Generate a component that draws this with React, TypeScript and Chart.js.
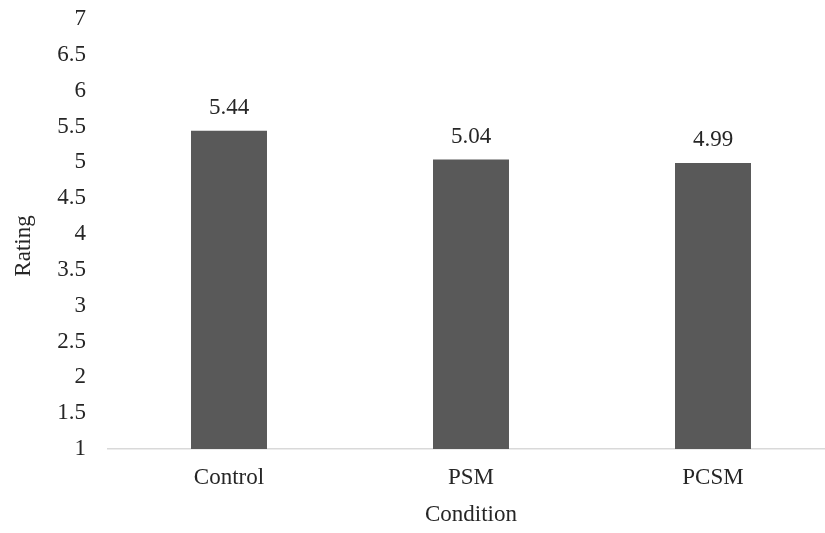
import React, { useEffect, useRef } from "react";
import { Chart, registerables } from "chart.js";

Chart.register(...registerables);

// Mean rating per experimental condition
const conditions = ["Control", "PSM", "PCSM"];
const ratings = [5.44, 5.04, 4.99];

// Rating axis range
const yMin = 1;
const yMax = 7;
const yStep = 0.5;
const yTitle = "Rating";

const FONT = '"Liberation Serif", "Times New Roman", serif';
const TEXT = "#262626";

// Writes each bar's value just above it
const valueLabels = {
  id: "valueLabels",
  afterDatasetsDraw(chart: any) {
    const ctx = chart.ctx;
    const meta = chart.getDatasetMeta(0);
    ctx.save();
    ctx.font = `23px ${FONT}`;
    ctx.fillStyle = TEXT;
    ctx.textAlign = "center";
    ctx.textBaseline = "middle";
    meta.data.forEach((bar: any, i: number) => {
      const v = chart.data.datasets[0].data[i] as number;
      ctx.fillText(v.toFixed(2), bar.x, bar.y - 23);
    });
    ctx.restore();
  },
};

// Vertical axis title, centred between the plot top and the category labels
const yAxisTitle = {
  id: "yAxisTitle",
  afterDraw(chart: any) {
    const { ctx, chartArea } = chart;
    const cy = (chartArea.top + chartArea.bottom + 22) / 2 + 1;
    ctx.save();
    ctx.translate(24, cy);
    ctx.rotate(-Math.PI / 2);
    ctx.font = `23px ${FONT}`;
    ctx.fillStyle = TEXT;
    ctx.textAlign = "center";
    ctx.textBaseline = "middle";
    ctx.fillText(yTitle, 0, 0);
    ctx.restore();
  },
};

export default function App() {
  const ref = useRef<HTMLCanvasElement | null>(null);

  useEffect(() => {
    if (!ref.current) return;
    const chart = new Chart(ref.current, {
      type: "bar",
      data: {
        labels: conditions,
        datasets: [
          {
            data: ratings,
            backgroundColor: "#595959",
            categoryPercentage: 1,
            barPercentage: 0.314,
          },
        ],
      },
      options: {
        animation: false,
        responsive: false,
        layout: {
          autoPadding: false,
          padding: { top: 19, left: 0, right: 0, bottom: 0 },
        },
        plugins: {
          legend: { display: false },
          tooltip: { enabled: false },
        },
        scales: {
          x: {
            afterFit(scale: any) {
              scale.height = 84;
              scale.paddingLeft = 0;
              scale.paddingRight = 0;
            },
            grid: { display: false, drawTicks: false },
            border: { display: true, color: "#d9d9d9", width: 1.5 },
            ticks: {
              color: TEXT,
              font: { family: FONT, size: 23 },
              padding: 15,
            },
            title: {
              display: true,
              text: "Condition",
              color: TEXT,
              font: { family: FONT, size: 23 },
              padding: { top: 0, bottom: 4 },
            },
          },
          y: {
            min: yMin,
            max: yMax,
            afterFit(scale: any) {
              scale.width = 108;
              scale.paddingTop = 0;
              scale.paddingBottom = 0;
            },
            grid: { display: false, drawTicks: false },
            border: { display: false },
            ticks: {
              stepSize: yStep,
              color: TEXT,
              font: { family: FONT, size: 23 },
              padding: 22,
              callback: (v: any) => String(Number(v)),
            },
            title: { display: false },
          },
        },
      },
      plugins: [valueLabels, yAxisTitle],
    });
    return () => chart.destroy();
  }, []);

  return (
    <div
      style={{
        position: "fixed",
        left: 0,
        top: 0,
        width: 825,
        height: 533,
        overflow: "hidden",
        background: "#ffffff",
      }}
    >
      <canvas ref={ref} width={834} height={533} style={{ display: "block" }} />
    </div>
  );
}
